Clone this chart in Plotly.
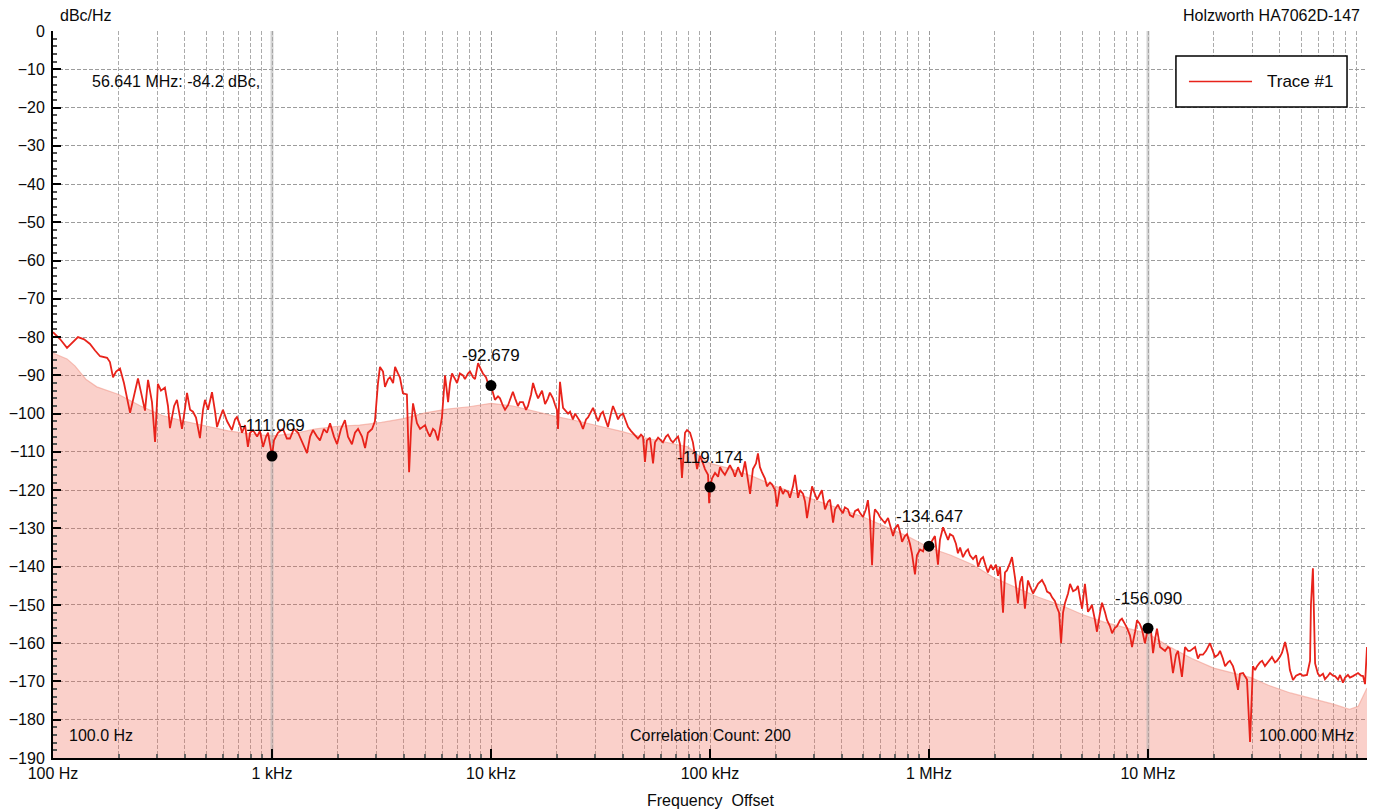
import math
import plotly.graph_objects as go

# ---------------- data ----------------
# offset frequency given as log10(Hz); level in dBc/Hz
dec1_logf = [2.000,2.032,2.064,2.087,2.114,2.142,2.169,2.192,2.215,2.247,2.260,2.274,2.288,2.306,2.324,2.352,2.370,2.388,2.406,2.420,2.434,2.452,2.466,2.479,2.493,2.511,2.525,2.534,2.553,2.566,2.580,2.589,2.603,2.612,2.626,2.639,2.653,2.671,2.685,2.694,2.708,2.726,2.740,2.749,2.763,2.776,2.795,2.817,2.831,2.840,2.854,2.863,2.877,2.890,2.900,2.913,2.932,2.945,2.959,2.973,2.982,2.995]
dec1_dbc = [-78.7,-80.5,-82.8,-81.5,-80.0,-80.6,-81.8,-83.5,-85.0,-85.4,-86.5,-90.5,-89.0,-88.2,-92.0,-99.8,-95.0,-90.8,-95.5,-99.2,-91.2,-97.0,-107.4,-92.2,-94.0,-93.2,-98.0,-103.8,-98.0,-96.4,-101.0,-104.0,-98.5,-94.6,-99.0,-99.5,-101.0,-106.4,-99.0,-96.4,-99.0,-94.4,-99.5,-103.5,-101.0,-99.0,-102.0,-104.3,-101.5,-100.9,-103.0,-105.0,-103.0,-108.7,-105.0,-104.3,-106.0,-104.5,-108.7,-106.0,-105.0,-109.0]

dec2_logf = [3.000,3.009,3.027,3.050,3.068,3.082,3.100,3.119,3.142,3.160,3.174,3.187,3.205,3.219,3.237,3.251,3.265,3.283,3.297,3.315,3.333,3.347,3.365,3.379,3.393,3.411,3.425,3.438,3.457,3.470,3.484,3.493,3.507,3.516,3.530,3.539,3.553,3.562,3.575,3.584,3.598,3.616,3.626,3.635,3.644,3.653,3.662,3.676,3.689,3.699,3.712,3.721,3.735,3.744,3.758,3.776,3.790,3.799,3.804,3.813,3.822,3.836,3.845,3.858,3.872,3.881,3.895,3.904,3.918,3.927,3.941,3.950,3.963,3.977,3.986]
dec2_dbc = [-111.1,-107.0,-105.0,-104.0,-106.5,-106.5,-104.0,-105.0,-108.0,-110.3,-106.0,-104.3,-106.0,-107.0,-104.0,-105.0,-102.5,-106.0,-108.0,-104.0,-101.7,-106.0,-108.0,-105.0,-104.0,-106.0,-109.0,-105.0,-104.0,-102.0,-92.0,-87.8,-89.0,-93.0,-91.0,-90.5,-92.0,-87.8,-89.5,-90.5,-94.7,-95.0,-115.3,-104.0,-97.3,-100.0,-102.5,-104.0,-103.5,-103.0,-105.0,-106.0,-104.0,-104.5,-107.0,-101.0,-90.0,-95.0,-97.0,-92.0,-89.5,-91.0,-92.0,-89.5,-90.0,-91.0,-89.5,-89.0,-90.5,-91.0,-86.8,-88.0,-89.5,-90.5,-92.0]

dec3_logf = [4.000,4.018,4.032,4.041,4.055,4.064,4.078,4.091,4.100,4.110,4.123,4.132,4.146,4.160,4.169,4.183,4.192,4.205,4.215,4.224,4.233,4.247,4.260,4.269,4.283,4.292,4.301,4.306,4.315,4.329,4.338,4.352,4.361,4.374,4.384,4.397,4.406,4.420,4.434,4.443,4.452,4.466,4.479,4.489,4.502,4.511,4.525,4.534,4.548,4.557,4.571,4.580,4.589,4.603,4.616,4.626,4.639,4.648,4.662,4.671,4.685,4.694,4.703,4.712,4.726,4.740,4.749,4.763,4.776,4.785,4.799,4.808,4.822,4.831,4.845,4.854,4.863,4.872,4.886,4.895,4.909,4.922,4.941,4.954,4.968,4.977,4.991,4.996]
dec3_dbc = [-92.7,-96.4,-95.5,-96.0,-98.0,-99.0,-97.8,-96.0,-94.3,-96.0,-98.0,-97.0,-97.0,-99.0,-98.0,-95.0,-92.0,-94.5,-96.0,-95.0,-94.0,-97.5,-96.0,-94.5,-96.0,-97.6,-99.0,-104.0,-91.7,-98.5,-99.0,-100.0,-99.5,-101.5,-100.0,-101.0,-102.0,-104.0,-101.5,-101.0,-100.0,-98.5,-100.5,-102.0,-100.0,-99.5,-102.0,-103.5,-100.0,-98.0,-100.0,-101.5,-100.5,-100.0,-102.0,-103.5,-104.5,-105.0,-106.0,-106.5,-105.5,-106.0,-112.6,-107.0,-106.3,-113.0,-107.5,-106.3,-107.0,-107.5,-106.0,-105.5,-107.0,-107.5,-106.5,-106.0,-108.0,-116.8,-105.0,-104.3,-105.0,-107.5,-114.5,-111.0,-113.0,-114.5,-116.0,-123.4]

dec4_logf = [5.000,5.009,5.023,5.037,5.046,5.055,5.068,5.082,5.091,5.105,5.114,5.128,5.137,5.146,5.160,5.174,5.183,5.196,5.210,5.219,5.228,5.237,5.251,5.260,5.274,5.283,5.297,5.306,5.320,5.333,5.342,5.356,5.365,5.379,5.388,5.402,5.411,5.425,5.434,5.443,5.457,5.466,5.479,5.489,5.502,5.511,5.525,5.539,5.548,5.562,5.571,5.584,5.594,5.607,5.616,5.630,5.639,5.653,5.662,5.676,5.685,5.699,5.712,5.721,5.731,5.740,5.749,5.753,5.767,5.776,5.790,5.799,5.813,5.822,5.836,5.845,5.858,5.868,5.877,5.890,5.900,5.913,5.922,5.936,5.945,5.959,5.973,5.982,5.995]
dec4_dbc = [-119.2,-117.0,-115.5,-116.5,-114.0,-115.0,-116.0,-114.5,-113.5,-115.0,-116.5,-114.0,-115.5,-116.5,-112.5,-117.0,-121.0,-114.5,-113.0,-110.4,-114.0,-115.3,-117.0,-119.0,-118.0,-118.5,-120.0,-124.3,-119.0,-121.0,-120.0,-120.5,-122.0,-119.0,-116.0,-122.0,-120.0,-121.0,-123.0,-127.3,-122.0,-119.0,-121.0,-122.5,-121.0,-120.0,-125.0,-123.0,-122.5,-128.5,-125.0,-123.8,-125.0,-126.0,-124.5,-125.0,-126.5,-127.0,-125.5,-125.0,-126.0,-127.0,-125.0,-122.6,-128.0,-139.6,-127.0,-125.0,-126.0,-127.0,-128.0,-128.6,-127.3,-129.0,-132.0,-130.0,-129.0,-131.0,-133.5,-132.0,-131.5,-134.0,-136.5,-142.0,-137.0,-135.5,-136.0,-134.0,-135.0]

dec5_logf = [6.000,6.018,6.027,6.041,6.050,6.064,6.078,6.087,6.096,6.110,6.123,6.132,6.142,6.155,6.169,6.178,6.187,6.201,6.215,6.224,6.237,6.247,6.260,6.269,6.283,6.292,6.306,6.315,6.324,6.338,6.347,6.356,6.370,6.379,6.393,6.406,6.416,6.425,6.438,6.452,6.461,6.475,6.489,6.498,6.516,6.530,6.539,6.553,6.562,6.575,6.584,6.594,6.603,6.612,6.621,6.635,6.644,6.658,6.671,6.680,6.689,6.699,6.712,6.726,6.735,6.744,6.758,6.767,6.781,6.790,6.804,6.813,6.826,6.836,6.849,6.858,6.872,6.881,6.895,6.904,6.918,6.927,6.941,6.950,6.963,6.973,6.986]
dec5_dbc = [-134.6,-133.0,-132.0,-139.5,-133.0,-129.7,-132.0,-133.0,-131.5,-132.0,-134.0,-136.5,-135.0,-137.5,-136.0,-135.5,-137.0,-138.0,-137.0,-140.0,-138.0,-137.5,-140.0,-141.5,-139.5,-140.8,-139.5,-142.4,-140.0,-152.0,-141.5,-141.0,-139.0,-137.5,-143.0,-149.6,-144.0,-142.5,-151.0,-143.6,-145.0,-147.0,-145.5,-144.5,-143.5,-145.0,-146.5,-147.0,-148.0,-149.0,-150.6,-152.0,-160.0,-152.0,-149.5,-147.0,-144.5,-146.4,-146.0,-145.0,-148.0,-151.0,-144.5,-151.8,-151.0,-150.0,-154.0,-157.0,-152.0,-149.4,-152.0,-154.0,-155.5,-157.4,-156.0,-155.6,-154.0,-153.6,-155.0,-156.0,-158.0,-161.0,-157.0,-154.0,-155.0,-156.5,-160.0]

dec6_logf = [7.000,7.014,7.023,7.032,7.041,7.055,7.068,7.078,7.091,7.100,7.114,7.128,7.137,7.155,7.169,7.183,7.192,7.205,7.215,7.228,7.237,7.251,7.265,7.283,7.297,7.306,7.320,7.329,7.342,7.352,7.365,7.374,7.388,7.397,7.411,7.420,7.434,7.452,7.466,7.479,7.489,7.498,7.511,7.521,7.534,7.543,7.557,7.566,7.580,7.589,7.603,7.612,7.626,7.639,7.648,7.662,7.676,7.694,7.708,7.726,7.740,7.744,7.753,7.758,7.763,7.776,7.785,7.799,7.808,7.822,7.831,7.845,7.854,7.868,7.877,7.890,7.900,7.913,7.922,7.936,7.950,7.959,7.973,7.982,7.991,8.000]
dec6_dbc = [-156.1,-157.0,-162.6,-159.0,-156.2,-161.0,-161.5,-162.0,-161.0,-161.4,-167.8,-163.0,-162.0,-168.8,-161.0,-162.0,-162.0,-161.5,-161.0,-164.0,-163.0,-163.0,-162.0,-160.0,-162.0,-163.6,-163.0,-162.0,-164.0,-166.0,-165.0,-164.6,-166.0,-167.8,-172.2,-168.0,-167.8,-169.5,-185.8,-166.0,-167.0,-166.0,-165.0,-164.6,-166.0,-165.3,-164.0,-163.6,-165.0,-164.6,-163.5,-162.5,-159.7,-163.0,-167.0,-169.6,-168.5,-168.0,-168.5,-168.3,-164.6,-150.0,-140.4,-150.0,-165.3,-168.0,-168.6,-168.0,-169.4,-168.5,-167.8,-168.5,-168.6,-169.5,-168.3,-170.3,-169.0,-168.3,-169.0,-168.6,-168.0,-167.8,-168.5,-168.6,-170.7,-161.0]

# smoothed (averaged) trace drawn as the filled area
fill_logf = [2.0,2.064,2.1,2.15,2.2,2.3,2.4,2.5,2.6,2.7,2.8,2.9,3.0,3.1,3.2,3.3,3.4,3.5,3.6,3.7,3.8,3.9,4.0,4.1,4.2,4.3,4.4,4.5,4.6,4.7,4.8,4.9,4.95,5.0,5.1,5.2,5.3,5.4,5.5,5.6,5.7,5.8,5.9,6.0,6.1,6.2,6.3,6.4,6.5,6.6,6.7,6.8,6.9,7.0,7.1,7.2,7.3,7.4,7.47,7.55,7.65,7.75,7.85,7.92,7.96,8.0]
fill_dbc = [-84.2,-85.7,-87.5,-91.0,-93.0,-95.0,-98.0,-100.5,-102.0,-103.3,-104.5,-105.3,-105.8,-105.2,-104.0,-103.3,-103.0,-102.3,-101.3,-99.8,-98.8,-98.2,-97.3,-98.0,-99.5,-100.8,-102.0,-103.3,-104.7,-106.3,-107.5,-108.7,-111.0,-113.0,-114.5,-116.5,-119.0,-121.0,-123.0,-125.0,-127.0,-129.5,-132.0,-135.0,-137.0,-139.5,-143.0,-145.5,-148.0,-150.0,-152.5,-154.5,-156.0,-157.5,-161.0,-164.0,-166.5,-168.0,-169.0,-171.0,-173.0,-174.5,-176.0,-177.3,-176.5,-171.7]

# spot markers
marker_hz = [1e3, 1e4, 1e5, 1e6, 1e7]
marker_dbc = [-111.069, -92.679, -119.174, -134.647, -156.090]

# highlighted offsets (grey vertical bars)
highlight_hz = [1e3, 1e7]

# axes
x_range_hz = [1e2, 1e8]
y_range = [-190, 0]
decade_hz = [1e2, 1e3, 1e4, 1e5, 1e6, 1e7, 1e8]
decade_labels = ["100 Hz", "1 kHz", "10 kHz", "100 kHz", "1 MHz", "10 MHz", ""]

# ---------------- build ----------------
FONT = "Liberation Sans, Arial, Helvetica, sans-serif"
TXT = "#0a0a0a"
trace_logf = []
trace_dbc = []
for lf, db in [(dec1_logf, dec1_dbc), (dec2_logf, dec2_dbc), (dec3_logf, dec3_dbc),
               (dec4_logf, dec4_dbc), (dec5_logf, dec5_dbc), (dec6_logf, dec6_dbc)]:
    n = min(len(lf), len(db))
    trace_logf += lf[:n]
    trace_dbc += db[:n]
trace_hz = [10 ** v for v in trace_logf]
fill_hz = [10 ** v for v in fill_logf]

minor_hz = []
for d in decade_hz[:-1]:
    for m in range(2, 10):
        minor_hz.append(d * m)

fig = go.Figure()
# baseline for the filled area
fig.add_trace(go.Scatter(x=x_range_hz, y=[y_range[0], y_range[0]], mode="lines",
                         line=dict(width=0, color="rgba(0,0,0,0)"), showlegend=False, hoverinfo="skip"))
fig.add_trace(go.Scatter(x=fill_hz, y=fill_dbc, mode="lines", fill="tonexty",
                         fillcolor="rgba(239,100,80,0.30)",
                         line=dict(color="rgba(240,150,135,0.55)", width=1.2),
                         showlegend=False, hoverinfo="skip"))
for h in highlight_hz:
    fig.add_trace(go.Scatter(x=[h, h], y=y_range, mode="lines",
                             line=dict(color="rgba(175,175,175,0.55)", width=3),
                             showlegend=False, hoverinfo="skip"))
fig.add_trace(go.Scatter(x=trace_hz, y=trace_dbc, mode="lines", name="Trace #1",
                         line=dict(color="#e8231b", width=1.8), showlegend=False))
fig.add_trace(go.Scatter(x=marker_hz, y=marker_dbc, mode="markers",
                         marker=dict(color="black", size=11), showlegend=False))

annotations = []
for f, v in zip(marker_hz, marker_dbc):
    annotations.append(dict(x=math.log10(f), y=v, xref="x", yref="y", text=f"{v:.3f}",
                            showarrow=False, yshift=30, font=dict(size=17, color=TXT)))

def pa(text, x, y, xanchor="left", size=16, yanchor="middle"):
    return dict(text=text, x=x, y=y, xref="paper", yref="paper", xanchor=xanchor,
                yanchor=yanchor, showarrow=False, font=dict(size=size, color=TXT, family=FONT))

annotations += [
    pa("dBc/Hz", 0.004, 1.021, "left"),
    pa("Holzworth HA7062D-147", 0.996, 1.021, "right"),
    pa("56.641 MHz: -84.2 dBc,", 0.028, 0.930, "left"),
    pa("100.0 Hz", 0.0107, 0.0316, "left"),
    pa("Correlation Count: 200", 0.5, 0.0316, "center"),
    pa("100.000 MHz", 0.992, 0.0316, "right"),
    pa("Frequency\u00a0 Offset", 0.5, -0.059, "center"),
    pa("Trace #1", 0.9224, 0.9305, "left", 17),
]

shapes = [
    dict(type="rect", xref="paper", yref="paper", x0=0.8546, x1=0.9848, y0=0.8955, y1=0.9656,
         line=dict(color="black", width=1.5), fillcolor="white", layer="above"),
    dict(type="line", xref="paper", yref="paper", x0=0.8645, x1=0.9125, y0=0.9305, y1=0.9305,
         line=dict(color="#e8231b", width=1.5), layer="above"),
]

grid_col = "#9c9c9c"
fig.update_layout(
    width=1377, height=812,
    margin=dict(l=53, r=10, t=31, b=54, autoexpand=False),
    paper_bgcolor="white", plot_bgcolor="white",
    font=dict(family=FONT, size=16, color=TXT),
    showlegend=False,
    annotations=annotations,
    shapes=shapes,
    xaxis=dict(type="log", range=[math.log10(x_range_hz[0]), math.log10(x_range_hz[1])],
               tickmode="array", tickvals=decade_hz, ticktext=decade_labels,
               ticks="inside", ticklen=9, tickwidth=1.5, tickcolor="black",
               showline=True, linecolor="black", linewidth=2, mirror=False,
               showgrid=True, gridcolor=grid_col, gridwidth=1, griddash="4px,2px",
               zeroline=False, tickfont=dict(size=16, color=TXT),
               minor=dict(tickmode="array", tickvals=minor_hz, ticks="inside", ticklen=4,
                          tickcolor="#666", showgrid=True, gridcolor="#ababab",
                          gridwidth=1, griddash="4px,2px")),
    yaxis=dict(range=y_range, tickmode="linear", tick0=0, dtick=10,
               ticks="inside", ticklen=8, tickwidth=1.5, tickcolor="black",
               showline=True, linecolor="black", linewidth=2, mirror=False,
               showgrid=True, gridcolor=grid_col, gridwidth=1, griddash="4px,2px",
               zeroline=False, tickfont=dict(size=16, color=TXT), ticklabelstandoff=3,
               minor=dict(dtick=2, ticks="inside", ticklen=4, tickcolor="#555", showgrid=False)),
)

fig.write_html("out.html", config={"displayModeBar": False},
               post_script="document.body.style.margin='0';document.body.style.overflow='hidden';")
